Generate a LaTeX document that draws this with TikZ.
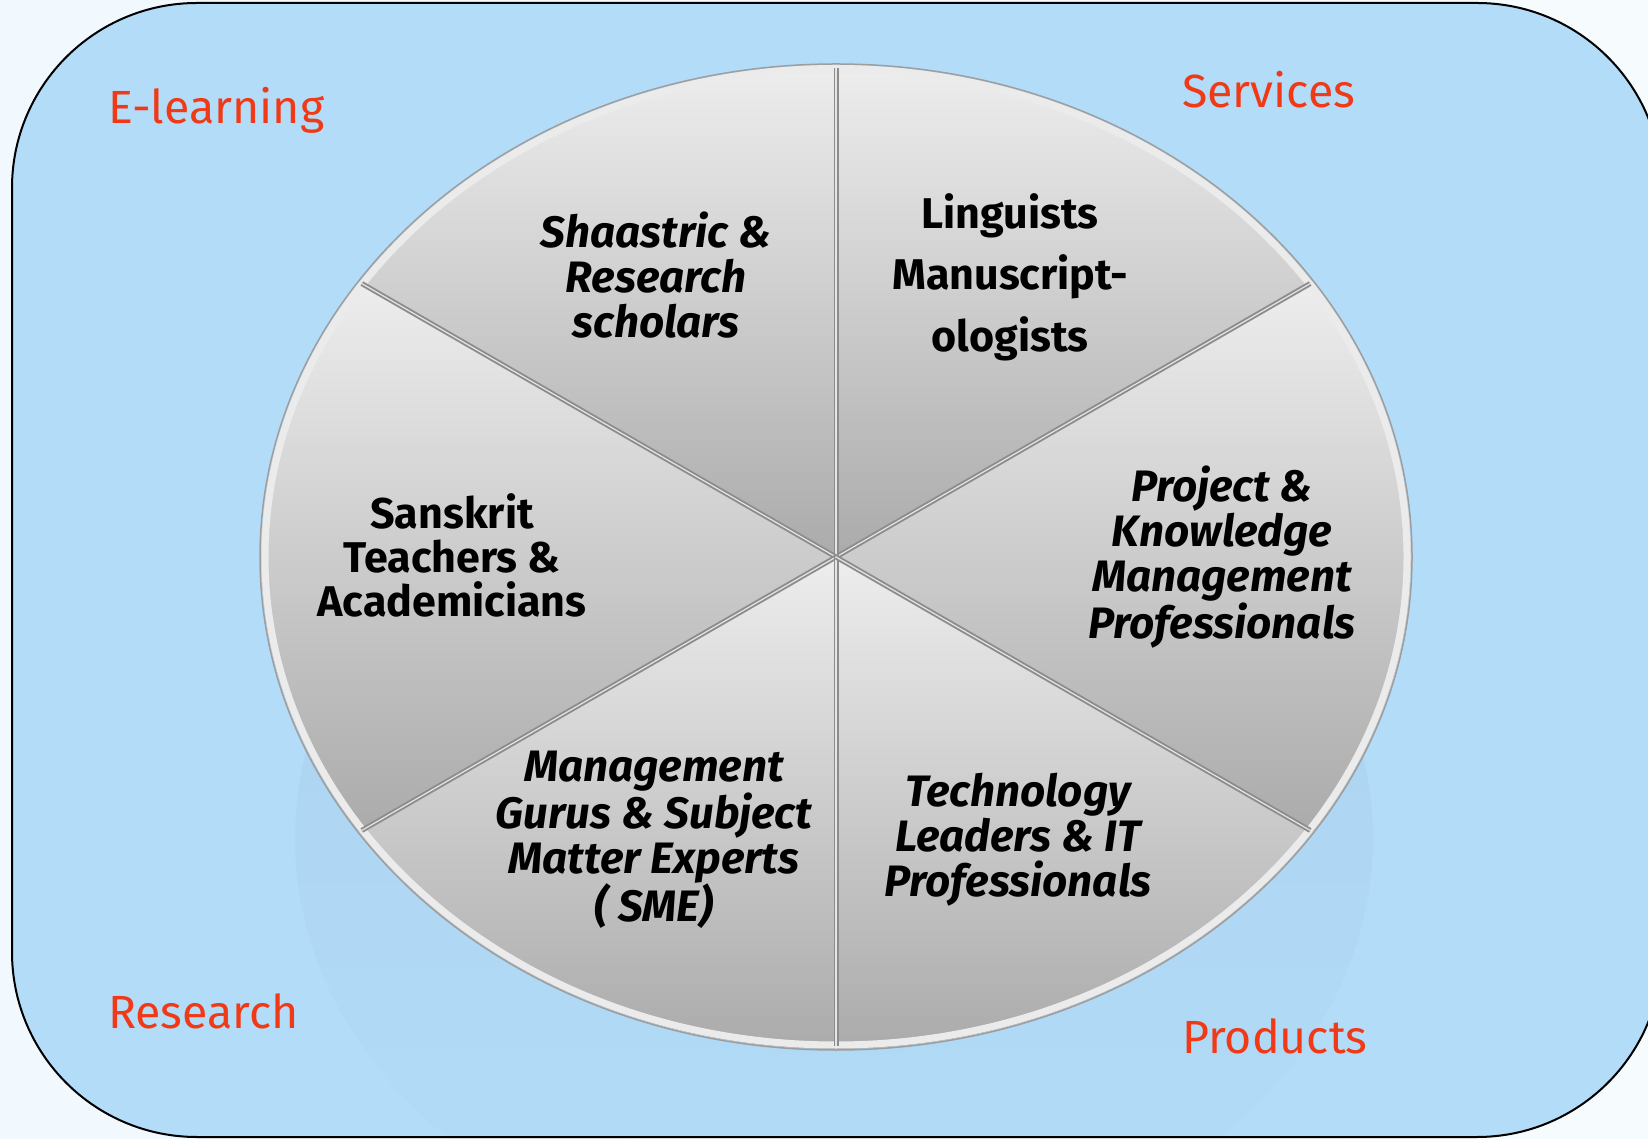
\documentclass[tikz,border=0pt]{standalone}
\usepackage{fontspec}
\setmainfont{Fira Sans}
\usetikzlibrary{fadings}

\definecolor{pagebg}{HTML}{E2F1FC}
\definecolor{panelblue}{HTML}{B3DCF9}
\definecolor{fieldred}{HTML}{F03A17}

\tikzset{
  fieldtext/.style={text=fieldred, anchor=base west, inner sep=0pt,
    font=\fontsize{46.5}{56}\selectfont},
  roleup/.style={align=center, inner sep=0pt,
    font=\fontsize{43}{44}\selectfont\bfseries},
  roleit/.style={align=center, inner sep=0pt,
    font=\fontsize{44}{45}\selectfont\bfseries\itshape},
  divider/.style={line width=5pt, black!45},
  dividerhi/.style={line width=1.2pt, black!10},
}

\begin{document}
\begin{tikzpicture}[x=1pt,y=1pt]
\useasboundingbox (0,0) rectangle (1648,1138);
\clip (0,0) rectangle (1648,1138);
\shade[left color=white!55!pagebg, right color=white!70!pagebg] (0,0) rectangle (1648,1138);

% blue panel
\filldraw[fill=panelblue, draw=black, line width=2pt, rounded corners=185pt]
  (12,1) rectangle (1662,1135);

% faint reflection under the disc
\fill[black, opacity=0.04, path fading=south] (836,300) ellipse [x radius=540, y radius=430];

\coordinate (ctr) at (836,581);

% sectors
\foreach \a/\b in {34/90, 90/146, 146/214, 214/270, 270/326, 326/394}
  \shade[top color=black!7, bottom color=black!33]
    (ctr) -- ++(\a:575 and 492) arc[start angle=\a, end angle=\b, x radius=575, y radius=492] -- cycle;

% rim
\draw[white!92!black, line width=7pt] (ctr) ellipse [x radius=571, y radius=488];
\draw[black!38, line width=1.5pt] (ctr) ellipse [x radius=576, y radius=493];

% dividers
\foreach \a in {34, 90, 146, 214, 270, 326} {
  \draw[divider] (ctr) -- ++(\a:572 and 489);
  \draw[dividerhi] (ctr) -- ++(\a:572 and 489);
}

% roles
\node[roleit] (shaastric) at (656,863) {Shaastric \&\\Research\\scholars};
\node[roleup] (linguists) at (1010,861) {Linguists\\[16pt]Manuscript-\\[16pt]ologists};
\node[roleup] (sanskrit) at (452,583) {Sanskrit\\Teachers \&\\Academicians};
\node[roleit] (project) at (1222,581) {Project \&\\Knowledge\\Management\\Professionals};
\node[roleit] (gurus) at (654,298) {Management\\Gurus \& Subject\\Matter Experts\\( SME)};
\node[roleit] (techno) at (1018,298) {Technology\\Leaders \& IT\\Professionals};

% fields
\node[fieldtext] (elearn) at (108,1014) {E-learning};
\node[fieldtext] (services) at (1182,1030) {Services};
\node[fieldtext] (research) at (108,110) {Research};
\node[fieldtext] (products) at (1182,85) {Products};
\end{tikzpicture}
\end{document}
